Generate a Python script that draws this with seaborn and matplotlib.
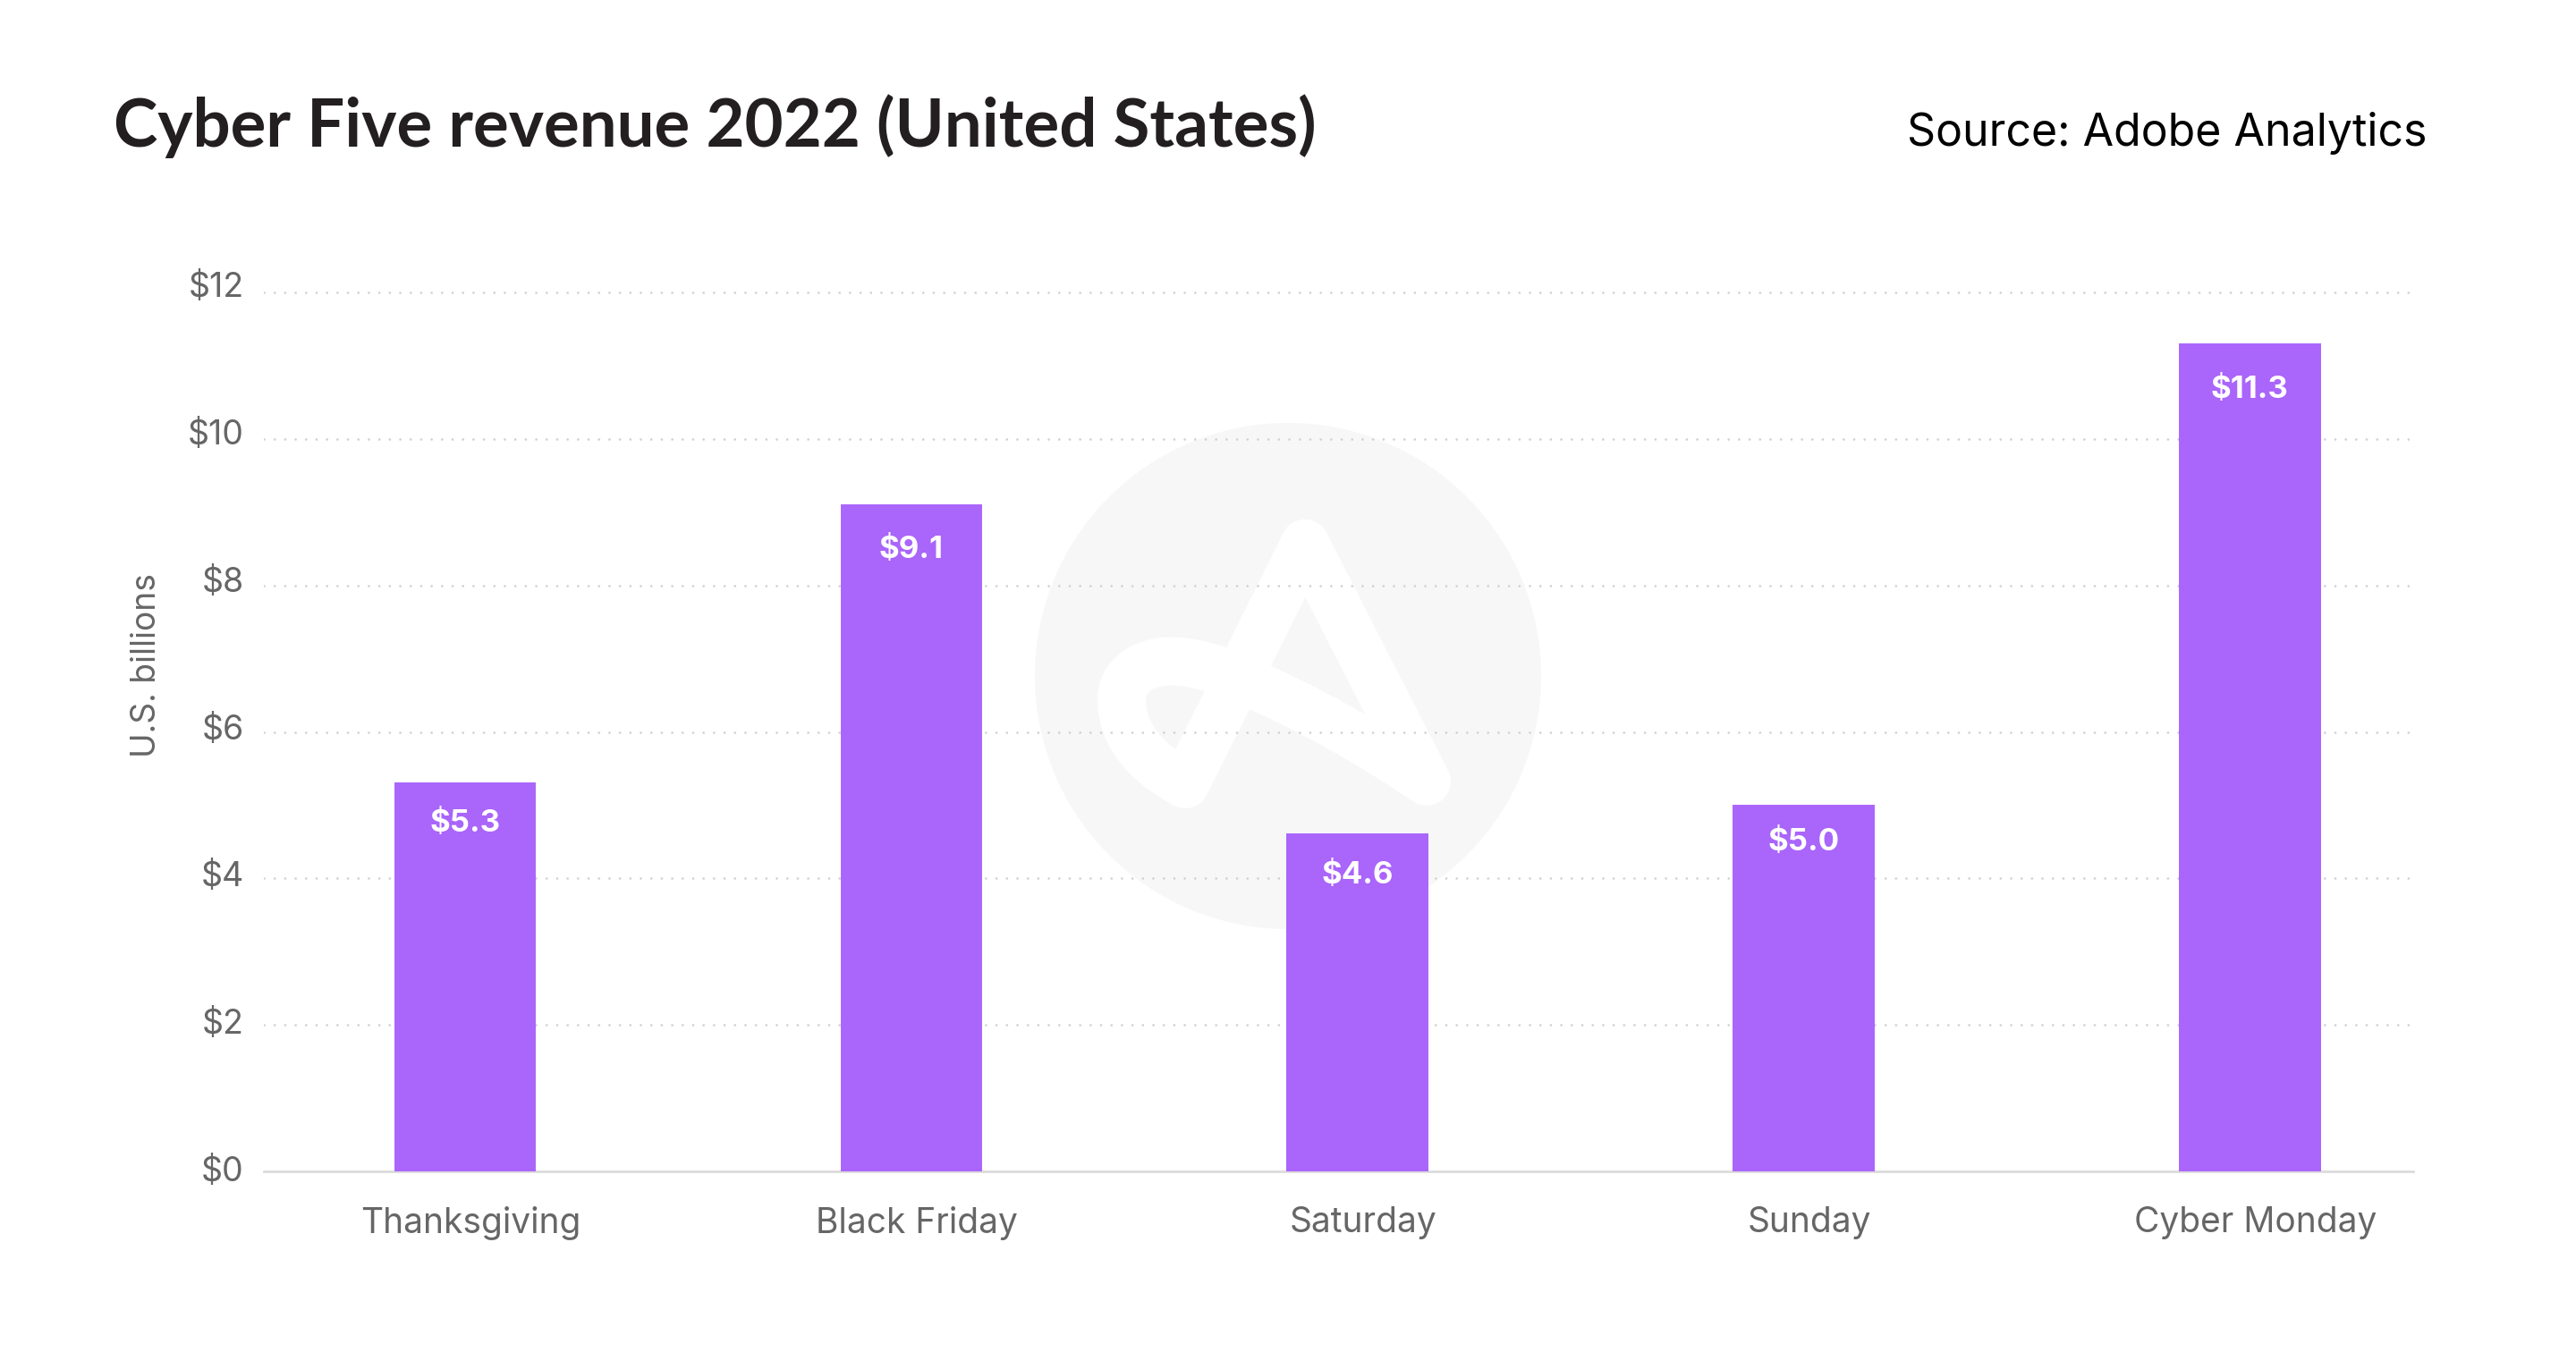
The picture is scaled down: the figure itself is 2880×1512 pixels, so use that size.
import numpy as np
import pandas as pd
import matplotlib
matplotlib.use("Agg")
import matplotlib.pyplot as plt
from matplotlib.patches import Circle, PathPatch
from matplotlib.path import Path
from matplotlib.transforms import ScaledTranslation
import seaborn as sns

days = ["Thanksgiving", "Black Friday", "Saturday", "Sunday", "Cyber Monday"]
revenue = [5.3, 9.1, 4.6, 5.0, 11.3]
value_labels = ["$5.3", "$9.1", "$4.6", "$5.0", "$11.3"]
y_ticks = [0, 2, 4, 6, 8, 10, 12]
y_tick_labels = ["$0", "$2", "$4", "$6", "$8", "$10", "$12"]

W, H, DPI = 2880, 1512, 200
PURPLE = "#aa65fb"
TICK_GREY = "#666666"

sns.set_theme(style="white")
plt.rcParams["font.family"] = ["Inter", "Lato", "DejaVu Sans"]

df = pd.DataFrame({"day": days, "revenue": revenue})

fig = plt.figure(figsize=(W / DPI, H / DPI), dpi=DPI, facecolor="white")

# watermark logo sits behind everything, drawn in pixel coordinates
bg = fig.add_axes([0, 0, 1, 1], zorder=0)
bg.set_xlim(0, W)
bg.set_ylim(H, 0)
bg.axis("off")
bg.add_patch(Circle((1440, 756), 283, color="#f7f7f7", lw=0))
logo = Path(
    [(1459, 608), (1595, 874),
     (1530, 830), (1460, 790), (1386, 759),
     (1355, 745), (1325, 738), (1301, 740),
     (1275, 742), (1254, 758), (1254, 782),
     (1254, 825), (1285, 855), (1325, 877),
     (1459, 608)],
    [Path.MOVETO, Path.LINETO,
     Path.CURVE4, Path.CURVE4, Path.CURVE4,
     Path.CURVE4, Path.CURVE4, Path.CURVE4,
     Path.CURVE4, Path.CURVE4, Path.CURVE4,
     Path.CURVE4, Path.CURVE4, Path.CURVE4,
     Path.LINETO],
)
bg.add_patch(PathPatch(logo, fill=False, edgecolor="white", lw=54 * 72 / DPI,
                       capstyle="round", joinstyle="round"))

# main chart axes, transparent so the logo shows through
y0_px, unit_px, ax_left, ax_right = 1310, 81.9, 295, 2698
y_top = 12.3
ax = fig.add_axes([ax_left / W, (H - y0_px) / H, (ax_right - ax_left) / W, y_top * unit_px / H], zorder=1)
ax.patch.set_alpha(0)

sns.barplot(data=df, x="day", y="revenue", color=PURPLE, saturation=1, width=0.314,
            edgecolor=PURPLE, linewidth=0.7, ax=ax, zorder=3)

ax.set_xlim(-0.451, 4.366)
ax.set_ylim(0, y_top)
ax.set_yticks(y_ticks, y_tick_labels)
ax.set_xticks(np.arange(len(days)) + 0.012, days)
ax.set_xlabel("")
ax.set_ylabel("U.S. billions", fontsize=13.4, color=TICK_GREY)
ax.yaxis.set_label_coords((182 - ax_left) / (ax_right - ax_left), (y0_px - 744) / (y_top * unit_px))

ax.grid(axis="y", color="#d2d2d2", lw=1.0, linestyle=(0, (0.01, 4.2)), dash_capstyle="round", zorder=1)
ax.set_axisbelow(True)
sns.despine(ax=ax, left=True)
ax.spines["bottom"].set_color("#dcdcdc")
ax.spines["bottom"].set_linewidth(1.0)

ax.tick_params(axis="y", length=0, pad=8, labelsize=13.5, labelcolor=TICK_GREY)
ax.tick_params(axis="x", length=0, pad=14, labelsize=14, labelcolor=TICK_GREY)

# the y labels drift a little above their gridlines toward the top
for val, lab in zip(y_ticks, ax.get_yticklabels()):
    dy = (3 + 0.5 * val) / DPI
    lab.set_transform(lab.get_transform() + ScaledTranslation(0, dy, fig.dpi_scale_trans))

# distance of each value label below its bar top, in pixels
label_drop = [45, 50, 46, 41, 51]
for i, (val, txt) in enumerate(zip(revenue, value_labels)):
    ax.annotate(txt, (i, val), xytext=(0, -label_drop[i] * 72 / DPI), textcoords="offset points",
                ha="center", va="center", color="white", fontsize=12.5, fontweight="bold", zorder=4)

fig.text(127 / W, 1 - 164 / H, "Cyber Five revenue 2022 (United States)", fontsize=26.8,
         fontweight="bold", color="#231f20", ha="left", va="baseline", family=["Lato", "DejaVu Sans"])
fig.text(2713 / W, 1 - 163 / H, "Source: Adobe Analytics", fontsize=18,
         color="black", ha="right", va="baseline")

fig.savefig("out.png", dpi=DPI)
